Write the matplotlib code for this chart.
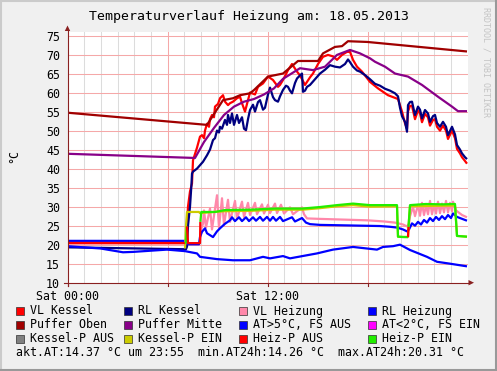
import matplotlib
matplotlib.use('Agg')
import matplotlib.pyplot as plt
from matplotlib.patches import Rectangle, Polygon
from matplotlib.lines import Line2D

W, H = 497, 371
MONO = 'DejaVu Sans Mono'
plt.rcParams['font.family'] = [MONO, 'DejaVu Sans']

title = 'Temperaturverlauf Heizung am: 18.05.2013'
x_tick_pos = [0, 12]
x_tick_labels = ['Sat 00:00', 'Sat 12:00']
y_ticks = list(range(10, 80, 5))

# ---- data (time in hours since Sat 00:00) ----
vlk_t = [0, 7.05, 7.14, 7.23, 7.35, 7.47, 7.53, 7.77, 7.95, 8.07, 8.19, 8.25, 8.37, 8.49, 8.55, 8.67, 8.79,
         8.85, 9.03, 9.15, 9.33, 9.45, 9.63, 9.75, 9.93, 10.17, 10.35, 10.47, 10.65, 10.83, 10.95, 11.25,
         11.43, 11.73, 12.03, 12.33, 12.63, 12.75, 12.93, 13.23, 13.47, 13.77, 13.95, 14.13, 14.25, 14.55,
         14.73, 15.03, 15.33, 15.63, 15.93, 16.17, 16.47, 16.77, 16.95, 17.13, 17.37, 17.67, 18.15, 18.63,
         19.23, 19.83, 20.07, 20.25, 20.37, 20.43, 20.55, 20.67, 20.85, 21.03, 21.15, 21.27, 21.45, 21.63,
         21.75, 21.93, 22.05, 22.17, 22.35, 22.53, 22.71, 22.83, 23.07, 23.25, 23.37, 23.55, 23.67, 23.85, 23.97]
vlk_v = [20.4, 20.4, 22.0, 30.0, 34.0, 36.1, 42.2, 45.5, 48.4, 48.8, 48.0, 50.0, 51.8, 51.0, 53.0, 54.1, 53.5,
         56.3, 57.0, 58.5, 59.3, 57.6, 56.7, 57.2, 57.6, 58.5, 58.9, 57.2, 55.0, 58.0, 60.0, 59.5,
         61.5, 62.4, 64.2, 63.3, 61.5, 62.0, 63.3, 65.9, 67.5, 65.5, 64.5, 63.0, 62.0, 64.0,
         65.0, 67.5, 69.4, 69.9, 69.5, 68.6, 69.9, 70.7, 70.7, 68.6, 66.8, 65.5, 62.8, 61.1,
         59.3, 58.3, 55.0, 51.9, 50.5, 55.0, 56.5, 56.5, 53.0, 55.3, 54.5, 52.2, 54.4, 53.5,
         51.3, 52.8, 53.0, 51.0, 50.0, 51.3, 50.0, 47.8, 50.0, 48.0, 45.2, 44.0, 43.0, 42.0, 41.3]

rlk_t = [0, 7.11, 7.17, 7.23, 7.35, 7.44, 7.47, 7.53, 7.77, 7.95, 8.13, 8.37, 8.55, 8.73, 8.85, 8.97, 9.09,
         9.15, 9.27, 9.45, 9.57, 9.63, 9.75, 9.87, 9.99, 10.17, 10.29, 10.47, 10.59, 10.71, 10.83, 10.95,
         11.13, 11.25, 11.43, 11.55, 11.73, 11.85, 12.03, 12.15, 12.33, 12.45, 12.63, 12.75, 12.93, 13.11,
         13.23, 13.35, 13.47, 13.65, 13.77, 13.95, 14.07, 14.13, 14.25, 14.37, 14.55, 14.85, 15.15, 15.45,
         15.75, 16.05, 16.35, 16.65, 16.83, 16.95, 17.13, 17.37, 17.55, 17.85, 18.15, 18.45, 18.75, 19.05,
         19.35, 19.65, 19.83, 19.95, 20.07, 20.25, 20.37, 20.43, 20.55, 20.67, 20.85, 21.03, 21.15, 21.27,
         21.45, 21.63, 21.75, 21.93, 22.05, 22.17, 22.35, 22.53, 22.71, 22.83, 23.07, 23.25, 23.37, 23.55,
         23.67, 23.85, 23.97]
rlk_v = [19.3, 18.8, 19.5, 25.0, 30.0, 36.0, 38.7, 39.2, 40.0, 40.9, 41.8, 43.5, 45.0, 47.5, 48.0, 50.0, 49.5,
         51.0, 50.5, 52.8, 51.5, 54.1, 52.0, 54.5, 51.5, 54.1, 52.0, 53.5, 50.5, 50.1, 53.0, 55.4,
         56.8, 55.0, 57.5, 58.0, 55.5, 56.0, 59.5, 61.3, 58.8, 58.0, 57.6, 59.0, 60.7, 61.8,
         61.5, 60.5, 59.8, 62.5, 63.7, 64.5, 65.0, 60.2, 60.5, 61.5, 62.0, 63.5, 65.0, 66.0,
         67.2, 66.8, 66.6, 67.5, 68.7, 68.0, 66.8, 65.8, 65.5, 64.6, 63.5, 62.3, 61.8, 61.0,
         60.5, 59.8, 59.0, 56.0, 53.8, 52.3, 49.7, 56.7, 57.5, 57.6, 54.1, 56.3, 55.5, 53.2,
         55.4, 54.5, 52.3, 53.8, 54.1, 52.0, 51.0, 52.3, 51.0, 48.8, 51.0, 49.0, 46.2, 45.0,
         44.0, 43.0, 42.5]

vlh_t = [0, 7.95, 8.01, 8.13, 8.19, 8.31, 8.55, 8.67, 8.97, 9.09, 9.27, 9.39, 9.63, 9.75, 10.05, 10.17,
         10.47, 10.59, 10.83, 10.95, 11.25, 11.37, 11.67, 11.79, 12.03, 12.15, 12.45, 12.57, 12.81, 12.99,
         13.35, 13.53, 14.07, 14.19, 14.37, 15.0, 16.5, 18.0, 19.0, 19.65, 20.13, 20.37, 20.49, 20.55,
         20.73, 20.85, 21.03, 21.15, 21.27, 21.39, 21.51, 21.63, 21.75, 21.87, 21.99, 22.11, 22.23, 22.35,
         22.47, 22.59, 22.71, 22.83, 22.95, 23.07, 23.13, 23.31, 23.67, 23.97]
vlh_v = [20.4, 20.4, 24.0, 25.5, 29.0, 24.5, 29.5, 24.0, 33.0, 24.5, 32.2, 25.2, 31.8, 26.0, 31.5, 26.8,
         31.3, 27.3, 31.0, 27.8, 31.0, 28.0, 30.6, 28.2, 30.5, 28.3, 30.8, 28.3, 30.5, 28.2,
         29.8, 28.0, 29.8, 28.0, 26.9, 26.8, 26.6, 26.4, 26.1, 25.8, 25.3, 24.8, 25.5, 27.5,
         30.0, 27.5, 30.5, 27.6, 31.0, 27.8, 30.3, 28.0, 31.5, 28.0, 30.5, 28.2, 31.3, 28.3,
         30.8, 28.5, 31.5, 28.5, 31.0, 28.8, 31.3, 29.0, 27.8, 27.2]

rlh_t = [0, 7.05, 7.17, 7.23, 7.89, 7.95, 8.07, 8.25, 8.37, 8.55, 8.73, 8.97, 9.15, 9.45, 9.75, 9.87,
         10.05, 10.29, 10.47, 10.71, 10.89, 11.13, 11.31, 11.55, 11.73, 11.97, 12.15, 12.33, 12.51, 12.75,
         12.93, 13.47, 13.65, 14.07, 14.31, 14.55, 15.15, 16.35, 17.55, 18.75, 19.35, 19.77, 20.13, 20.37,
         20.49, 20.67, 20.85, 21.03, 21.21, 21.39, 21.57, 21.75, 21.93, 22.11, 22.29, 22.47, 22.65, 22.83,
         23.01, 23.13, 23.37, 23.67, 23.97]
rlh_v = [21.0, 21.0, 20.5, 20.1, 20.1, 22.0, 23.4, 24.3, 23.0, 22.5, 22.0, 23.5, 24.3, 25.5, 26.4, 27.2,
         26.2, 27.2, 26.2, 27.2, 26.2, 27.2, 26.3, 27.3, 26.3, 27.3, 26.3, 27.3, 26.3, 27.3,
         26.2, 27.2, 26.1, 27.0, 25.8, 25.4, 25.2, 25.1, 25.0, 24.9, 24.7, 24.5, 24.0, 23.5,
         24.0, 25.6, 25.0, 26.0, 25.3, 26.5, 25.8, 27.0, 26.2, 27.3, 26.5, 27.5, 26.7, 27.8,
         27.0, 28.2, 27.3, 26.8, 26.3]

po_t = [0, 8.37, 9.33, 9.93, 10.35, 10.95, 11.2, 12.03, 12.93, 13.83, 15.03, 15.33, 16.05, 16.47, 16.83,
        18.0, 23.97]
po_v = [54.7, 51.5, 58.0, 58.5, 59.3, 59.8, 60.7, 64.2, 65.0, 68.3, 68.3, 70.3, 72.0, 72.2, 73.5,
        73.3, 70.8]

pm_t = [0, 7.65, 8.19, 8.79, 9.39, 9.99, 10.59, 11.19, 11.79, 12.39, 12.93, 13.95, 14.73, 15.45, 16.17,
        16.95, 17.55, 18.15, 18.45, 19.05, 19.65, 20.43, 21.27, 22.23, 23.07, 23.43, 23.97]
pm_v = [43.9, 42.8, 47.0, 50.7, 54.1, 56.3, 57.6, 58.3, 59.5, 61.1, 63.6, 66.4, 65.9, 66.8, 69.9,
        71.2, 70.3, 69.0, 68.1, 66.8, 65.0, 64.2, 62.0, 58.9, 56.3, 55.1, 55.1]

at_t = [0, 1.98, 3.33, 3.93, 5.97, 7.05, 7.77, 7.95, 8.97, 9.93, 10.95, 11.73, 12.15, 12.93, 13.35,
        14.97, 15.93, 17.13, 18.57, 18.93, 19.53, 19.95, 20.55, 21.57, 22.17, 22.95, 23.97]
at_v = [19.6, 19.0, 18.0, 18.1, 18.7, 18.3, 17.7, 16.8, 16.2, 15.9, 15.9, 16.8, 16.4, 17.0, 16.4,
        17.7, 18.7, 19.4, 18.7, 19.4, 19.6, 20.0, 18.6, 16.8, 15.5, 15.0, 14.3]

# boiler pump line (1 = EIN, 0 = AUS)
kp_t = [0, 7.05, 7.11, 7.17, 7.89, 7.95, 8.5, 9.45, 10.95, 12.45, 14.1, 15.15, 16.17, 17.13, 18.15,
        19.77, 19.83, 20.43, 20.46, 20.55, 23.25, 23.37, 23.97]
kp_v = [19.0, 19.0, 25.0, 28.6, 28.6, 28.3, 28.5, 28.8, 28.9, 29.2, 29.2, 29.6, 30.1, 30.4, 30.0,
        30.1, 22.1, 22.0, 24.7, 30.1, 30.3, 22.3, 22.1]
kp_on = [0, 0, 1, 1, 1, 1, 1, 1, 1, 1, 1, 1, 1, 1, 1, 1, 1, 1, 1, 1, 1, 1, 1]

# heating pump line (1 = EIN, 0 = AUS)
hp_t = [0, 7.05, 7.11, 7.17, 7.23, 7.95, 7.97, 8.03, 8.85, 9.45, 10.95, 12.45, 14.1, 15.15, 16.17,
        17.13, 18.15, 19.77, 19.83, 20.13, 20.43, 20.46, 20.55, 21.5, 22.5, 23.25, 23.37, 23.97]
hp_v = [20.4, 20.4, 20.6, 24.8, 20.4, 20.4, 26.0, 28.6, 28.6, 29.1, 29.2, 29.5, 29.5, 29.9, 30.4,
        30.8, 30.4, 30.4, 22.1, 22.0, 22.0, 24.7, 30.4, 30.7, 30.6, 30.7, 22.3, 22.1]
hp_on = [0, 0, 1, 1, 0, 0, 0, 1, 1, 1, 1, 1, 1, 1, 1, 1, 1, 1, 1, 1, 1, 0, 1, 1, 1, 1, 1, 1]

legend_items = [
    ('VL Kessel', '#ff0000'), ('RL Kessel', '#000080'), ('VL Heizung', '#ff88aa'), ('RL Heizung', '#0000ff'),
    ('Puffer Oben', '#a00000'), ('Puffer Mitte', '#880088'), ('AT>5°C, FS AUS', '#0000ff'), ('AT<2°C, FS EIN', '#ff00ff'),
    ('Kessel-P AUS', '#808080'), ('Kessel-P EIN', '#cccc00'), ('Heiz-P AUS', '#ff0000'), ('Heiz-P EIN', '#22ee00'),
]
summary = 'akt.AT:14.37 °C um 23:55  min.AT24h:14.26 °C  max.AT24h:20.31 °C'

# ---- figure ----
fig = plt.figure(figsize=(W / 100, H / 100), dpi=100, facecolor='#f0f0f0')


def P(x, y):
    return (x / W, 1 - y / H)


ax = fig.add_axes([67.5 / W, (H - 282.7) / H, 400 / W, 251 / H])
ax.set_facecolor('white')
ax.set_xlim(0, 24)
ax.set_ylim(10, 76)
for s in ax.spines.values():
    s.set_visible(False)

for h in range(1, 24):
    if h % 6:
        ax.axvline(h, color='#dcdcdc', lw=0.75, zorder=0)
for h in (6, 12, 18):
    ax.axvline(h, color='#f5a8a8', lw=0.75, zorder=0.5)
for yv in range(15, 80, 5):
    ax.axhline(yv, color='#f5a8a8', lw=0.75, zorder=0.5)

ax.set_xticks(x_tick_pos)
ax.set_xticklabels(x_tick_labels)
ax.set_yticks(y_ticks)
ax.set_yticklabels([str(v) for v in y_ticks])
ax.tick_params(axis='both', length=0, labelsize=8.4, colors='black')
ax.tick_params(axis='y', pad=5.4)
ax.tick_params(axis='x', pad=5.5)

LW = 1.6


def line(t, v, color, z):
    ax.plot(t, v, color=color, lw=LW, zorder=z, solid_joinstyle='round', solid_capstyle='butt')


def state_line(t, v, on, c_on, c_off, z):
    i = 0
    n = len(t)
    while i < n - 1:
        st = on[i + 1]
        j = i + 1
        while j + 1 < n and on[j + 1] == st:
            j += 1
        col = c_on if st else c_off
        if col is not None:
            line(t[i:j + 1], v[i:j + 1], col, z)
        i = j


line(vlk_t, vlk_v, '#ff0000', 2)
line(rlk_t, rlk_v, '#000080', 3)
line(vlh_t, vlh_v, '#ff88aa', 4)
line(rlh_t, rlh_v, '#0000ff', 5)
line(po_t, po_v, '#a00000', 6)
line(pm_t, pm_v, '#880088', 7)
line(at_t, at_v, '#0000ff', 8)
state_line(kp_t, kp_v, kp_on, '#cccc00', None, 9)
state_line(hp_t, hp_v, hp_on, '#22ee00', '#ff0000', 10)

# axes lines and arrows
AX_COL = '#8a2020'
fig.add_artist(Line2D([P(64, 282.7)[0], P(470, 282.7)[0]], [P(0, 282.7)[1]] * 2,
                      transform=fig.transFigure, color=AX_COL, lw=0.8))
fig.add_artist(Line2D([P(67.5, 0)[0]] * 2, [P(0, 286)[1], P(0, 30)[1]],
                      transform=fig.transFigure, color=AX_COL, lw=0.8))
fig.add_artist(Polygon([P(474, 282.7), P(468.5, 280), P(468.5, 285.4)], closed=True,
                       transform=fig.transFigure, color=AX_COL, lw=0))
fig.add_artist(Polygon([P(67.5, 25.5), P(64.8, 31), P(70.2, 31)], closed=True,
                       transform=fig.transFigure, color=AX_COL, lw=0))
# small tick marks
for h in (0, 6, 12, 18):
    xp = 67.5 + h * 400 / 24
    fig.add_artist(Line2D([P(xp, 0)[0]] * 2, [P(0, 282.7)[1], P(0, 285.5)[1]],
                          transform=fig.transFigure, color=AX_COL, lw=0.8))

# title, y label, watermark
fig.text(*P(249, 16.5), title, ha='center', va='center', fontsize=9.5)
fig.text(*P(14, 156), '°C', ha='center', va='center', fontsize=8.4, rotation=90)
fig.text(*P(486, 62), 'RRDTOOL / TOBI OETIKER', ha='center', va='center', fontsize=6,
         rotation=270, color='#c4c4c4')

# legend
col_x = [16, 124.3, 239.3, 368.3]
row_y = [311, 325, 339]
for k, (lab, col) in enumerate(legend_items):
    r, c = divmod(k, 4)
    bx, by = col_x[c], row_y[r]
    fig.add_artist(Rectangle(P(bx, by + 4), 8 / W, 8 / H, transform=fig.transFigure,
                             facecolor=col, edgecolor='#303030', lw=0.5))
    fig.text(*P(bx + 14, by), lab, ha='left', va='center', fontsize=8.4)
fig.text(*P(16, 353), summary, ha='left', va='center', fontsize=8.4)

# frame shading
fig.add_artist(Line2D([0, 1], [1 - 1 / H] * 2, transform=fig.transFigure, color='#cbcbcb', lw=1.5))
fig.add_artist(Line2D([1 / W] * 2, [0, 1], transform=fig.transFigure, color='#cbcbcb', lw=1.5))
fig.add_artist(Line2D([0, 1], [1 / H] * 2, transform=fig.transFigure, color='#999999', lw=1.5))
fig.add_artist(Line2D([1 - 1 / W] * 2, [0, 1], transform=fig.transFigure, color='#999999', lw=1.5))

fig.savefig('out.png', dpi=100, facecolor=fig.get_facecolor())
